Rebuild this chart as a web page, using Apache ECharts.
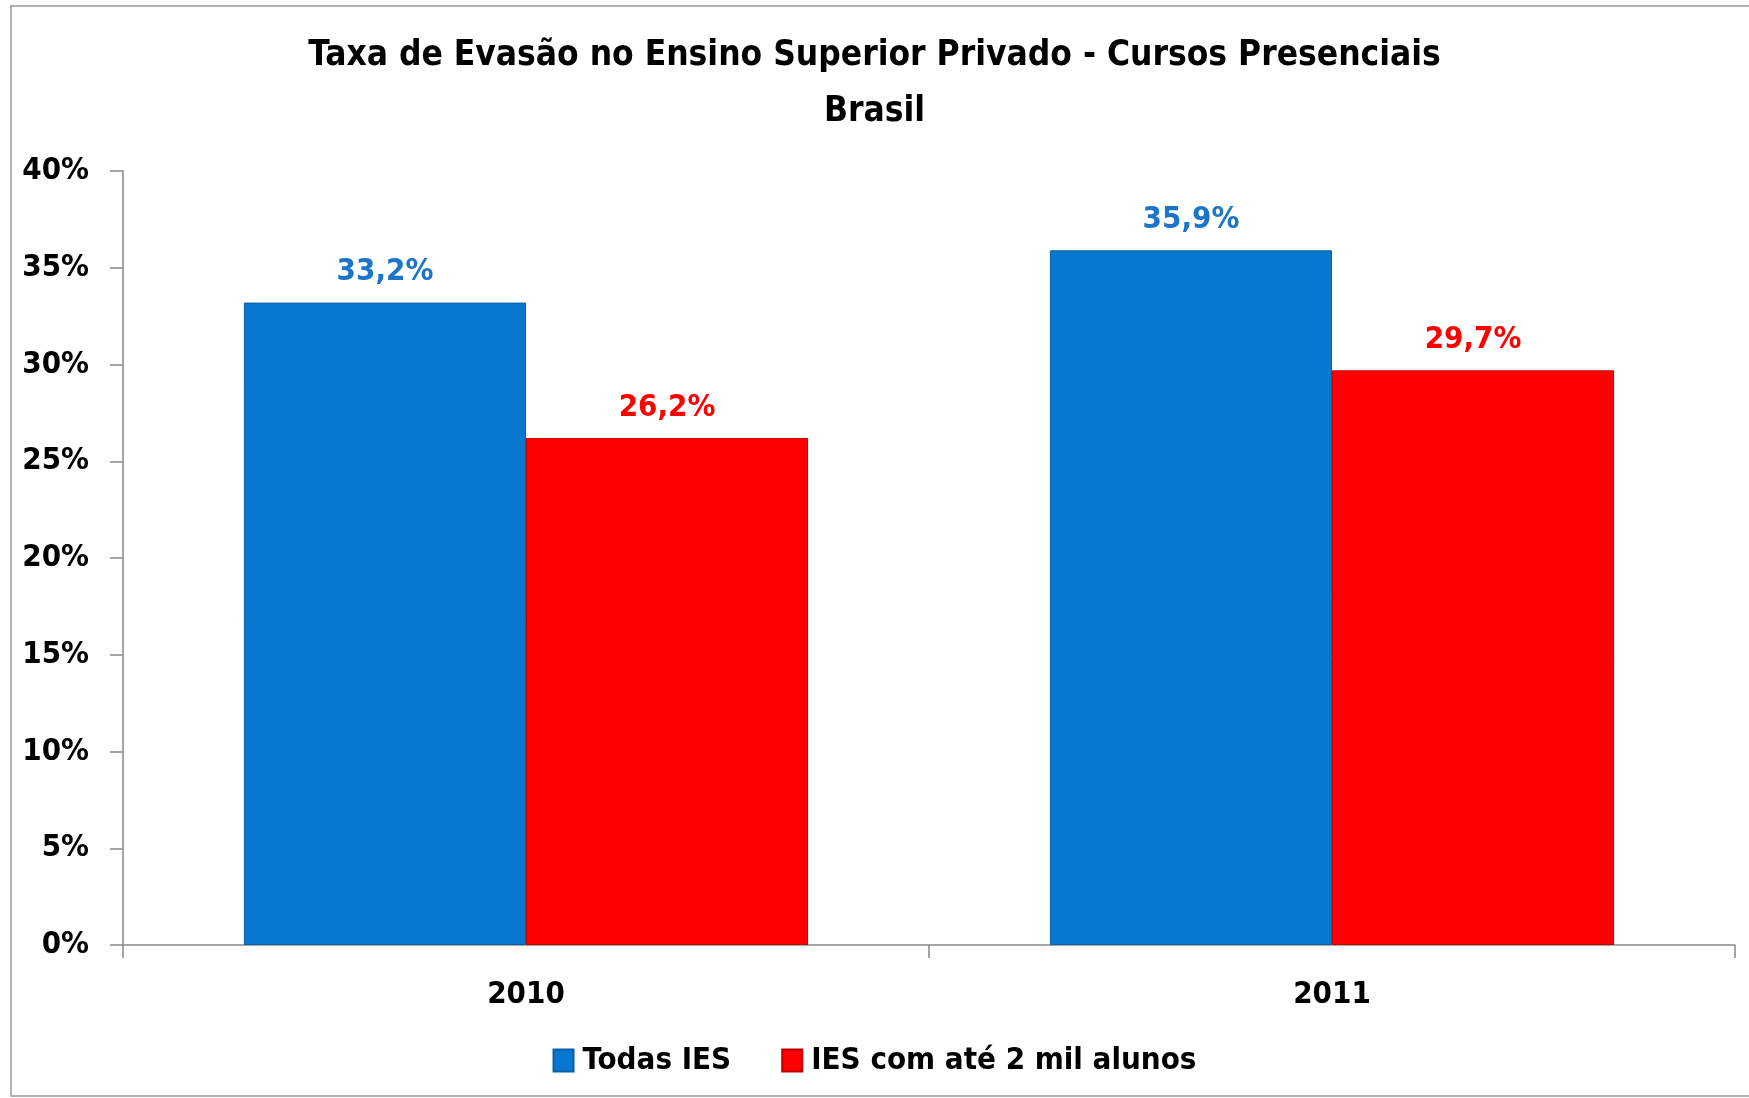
<!DOCTYPE html>
<html>
<head>
<meta charset="utf-8">
<script src="https://cdn.jsdelivr.net/npm/echarts@6/dist/echarts.min.js"></script>
<style>
html,body{margin:0;padding:0;background:#fff;}
#chart{width:1749px;height:1098px;}
</style>
</head>
<body>
<div id="chart"></div>
<script>
const categories = ['2010', '2011'];
const seriesNames = ['Todas IES', 'IES com até 2 mil alunos'];
const todasIES = [33.2, 35.9];
const ate2mil = [26.2, 29.7];
const yTicks = [0, 5, 10, 15, 20, 25, 30, 35, 40];

const FONT = '"Liberation Sans Narrow", "DejaVu Sans Condensed", "Open Sans", sans-serif';
const BLUE = '#0777CF';
const RED = '#FE0000';

const chart = echarts.init(document.getElementById('chart'), null, {renderer: 'canvas'});
const fmt = v => v.toFixed(1).replace('.', ',') + '%';

chart.setOption({
  animation: false,
  backgroundColor: '#fff',
  title: {
    text: 'Taxa de Evasão no Ensino Superior Privado - Cursos Presenciais\nBrasil',
    left: 'center',
    top: 23,
    textStyle: {fontFamily: FONT, fontWeight: 'bold', fontSize: 35, color: '#000', lineHeight: 56}
  },
  graphic: [{
    type: 'rect', shape: {x: 11, y: 6, width: 1800, height: 1090},
    style: {fill: 'none', stroke: '#999', lineWidth: 1.5}, silent: true
  }],
  legend: {
    data: seriesNames,
    bottom: 17,
    left: 'center',
    itemWidth: 20,
    itemHeight: 22,
    itemGap: 50,
    icon: 'rect',
    textStyle: {fontFamily: FONT, fontWeight: 'bold', fontSize: 31, color: '#000', padding: [0, 0, 0, 4]}
  },
  grid: {left: 123, right: 14, top: 171, bottom: 153},
  xAxis: {
    type: 'category',
    data: categories,
    axisLine: {lineStyle: {color: '#888', width: 1.5}},
    axisTick: {show: true, length: 13, lineStyle: {color: '#888', width: 1.5}},
    axisLabel: {fontFamily: FONT, fontWeight: 'bold', fontSize: 31, color: '#000', margin: 34}
  },
  yAxis: {
    type: 'value',
    min: yTicks[0],
    max: yTicks[yTicks.length - 1],
    interval: 5,
    axisLine: {show: true, lineStyle: {color: '#888', width: 1.5}},
    axisTick: {show: true, length: 13, lineStyle: {color: '#888', width: 1.5}},
    splitLine: {show: false},
    axisLabel: {fontFamily: FONT, fontWeight: 'bold', fontSize: 31, color: '#000', margin: 34,
      formatter: v => v + '%'}
  },
  series: [
    {
      name: seriesNames[0], type: 'bar', data: todasIES,
      barGap: '0%', barCategoryGap: '30%',
      itemStyle: {color: BLUE, borderColor: '#0A5FA8', borderWidth: 1},
      label: {show: true, position: 'top', distance: 15, formatter: p => fmt(p.value),
        fontFamily: FONT, fontWeight: 'bold', fontSize: 31, color: '#1C75C8'}
    },
    {
      name: seriesNames[1], type: 'bar', data: ate2mil,
      barGap: '0%', barCategoryGap: '30%',
      itemStyle: {color: RED, borderColor: '#C00000', borderWidth: 1},
      label: {show: true, position: 'top', distance: 15, formatter: p => fmt(p.value),
        fontFamily: FONT, fontWeight: 'bold', fontSize: 31, color: '#FF0000'}
    }
  ]
});
</script>
</body>
</html>
